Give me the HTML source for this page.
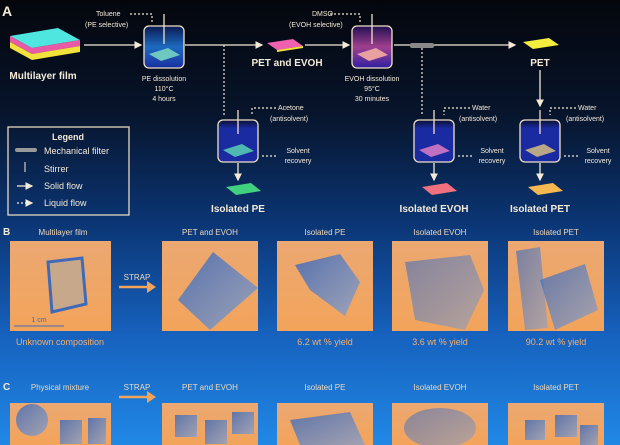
<!DOCTYPE html>
<html><head><meta charset="utf-8"><style>
body{margin:0;width:620px;height:445px;overflow:hidden;background:linear-gradient(180deg,#04060c 0%,#07142a 25%,#0b3574 50%,#1661bd 75%,#2188e6 100%);font-family:"Liberation Sans",sans-serif}
svg{position:absolute;left:0;top:0}
</style></head><body>
<svg width="620" height="445" viewBox="0 0 620 445" font-family="Liberation Sans, sans-serif">
<defs>
<marker id="a" markerWidth="6" markerHeight="6" refX="5" refY="3" orient="auto"><path d="M0,0 L6,3 L0,6z" fill="#f4ead8"/></marker>
<linearGradient id="ph" x1="0" y1="0" x2="0" y2="1"><stop offset="0" stop-color="#eba872"/><stop offset="1" stop-color="#f3a45a"/></linearGradient>
<linearGradient id="bl" x1="0" y1="0" x2="1" y2="1"><stop offset="0" stop-color="#3f6ab8"/><stop offset="1" stop-color="#8fa2c8"/></linearGradient>
<linearGradient id="v1" x1="0" y1="0" x2="0" y2="1"><stop offset="0" stop-color="#0a1a50"/><stop offset=".5" stop-color="#1d6ac0"/><stop offset="1" stop-color="#1a2fa0"/></linearGradient>
<linearGradient id="v2" x1="0" y1="0" x2="0" y2="1"><stop offset="0" stop-color="#201050"/><stop offset=".5" stop-color="#a04090"/><stop offset="1" stop-color="#3020a0"/></linearGradient>
<linearGradient id="v3" x1="0" y1="0" x2="0" y2="1"><stop offset="0" stop-color="#0a1030"/><stop offset=".2" stop-color="#1a2aa0"/><stop offset="1" stop-color="#1a2aa0"/></linearGradient>
</defs>
<g fill="#f4ead8">
<text x="2" y="16" font-size="14" font-weight="bold">A</text>
<polygon points="10,36 58,28 80,40 32,48" fill="#4fe6e0"/>
<polygon points="10,36 32,48 32,54 10,42" fill="#e85aa8"/>
<polygon points="32,48 80,40 80,46 32,54" fill="#e85aa8"/>
<polygon points="10,42 32,54 32,60 10,48" fill="#f2e23c"/>
<polygon points="32,54 80,46 80,52 32,60" fill="#f2e23c"/>
<text x="43" y="79" font-size="10" font-weight="bold" text-anchor="middle">Multilayer film</text>
</g>
<g stroke="#f4ead8" stroke-width="1.3" fill="none">
<line x1="84" y1="45" x2="141" y2="45" marker-end="url(#a)"/>
<line x1="185" y1="45" x2="262" y2="45" marker-end="url(#a)"/>
<line x1="305" y1="45" x2="349" y2="45" marker-end="url(#a)"/>
<line x1="394" y1="45" x2="515" y2="45" marker-end="url(#a)"/>
<line x1="540" y1="70" x2="540" y2="106" marker-end="url(#a)"/>
<line x1="238" y1="163" x2="238" y2="180" marker-end="url(#a)"/>
<line x1="434" y1="163" x2="434" y2="180" marker-end="url(#a)"/>
<line x1="540" y1="163" x2="540" y2="180" marker-end="url(#a)"/>
</g>
<g stroke="#f4ead8" stroke-width="1.2" fill="none" stroke-dasharray="2,2">
<path d="M130,14 H152 V22"/><path d="M330,14 H360 V22"/>
<path d="M224,45 V115"/><path d="M422,48 V115"/>
<path d="M276,108 H252 V115"/><path d="M470,108 H444 V115"/><path d="M576,108 H550 V115"/>
<path d="M262,156 H276"/><path d="M458,156 H474"/><path d="M564,156 H580"/>
</g>
<rect x="410" y="43" width="24" height="5" rx="2" fill="#888"/>
<g stroke="#f0e0c8" stroke-width="1.3">
<rect x="144" y="26" width="40" height="42" rx="5" fill="url(#v1)"/>
<rect x="352" y="26" width="40" height="42" rx="5" fill="url(#v2)"/>
<rect x="218" y="120" width="40" height="42" rx="5" fill="url(#v3)"/>
<rect x="414" y="120" width="40" height="42" rx="5" fill="url(#v3)"/>
<rect x="520" y="120" width="40" height="42" rx="5" fill="url(#v3)"/>
<line x1="164" y1="14" x2="164" y2="44"/><line x1="372" y1="14" x2="372" y2="44"/>
<line x1="238" y1="110" x2="238" y2="134"/><line x1="434" y1="110" x2="434" y2="134"/><line x1="540" y1="110" x2="540" y2="134"/>
</g>
<polygon points="149,54 168,48 180,55 161,61" fill="#6fc8c0"/>
<polygon points="357,54 376,48 388,55 369,61" fill="#e8a0a0"/>
<polygon points="223,150 242,144 254,151 235,157" fill="#4fb8b0"/>
<polygon points="419,150 438,144 450,151 431,157" fill="#c070c0"/>
<polygon points="525,150 544,144 556,151 537,157" fill="#b8a888"/>
<polygon points="267,43 293,39 303,46 277,50" fill="#f060b0"/><polygon points="277,50 303,46 303,48 277,52" fill="#f0e040"/>
<polygon points="523,42 549,38 559,45 533,49" fill="#f5ec40"/>
<polygon points="226,187 251,183 261,191 236,195" fill="#40d080"/>
<polygon points="422,187 447,183 457,191 432,195" fill="#f07080"/>
<polygon points="528,187 553,183 563,191 538,195" fill="#f5b850"/>
<g fill="#f4ead8" font-size="7" text-anchor="middle">
<text x="96" y="16" text-anchor="start">Toluene</text><text x="85" y="27" text-anchor="start">(PE selective)</text>
<text x="164" y="81">PE dissolution</text><text x="164" y="91">110°C</text><text x="164" y="101">4 hours</text>
<text x="312" y="16" text-anchor="start">DMSO</text><text x="289" y="27" text-anchor="start">(EVOH selective)</text>
<text x="372" y="81">EVOH dissolution</text><text x="372" y="91">95°C</text><text x="372" y="101">30 minutes</text>
<text x="278" y="110" text-anchor="start">Acetone</text><text x="270" y="121" text-anchor="start">(antisolvent)</text>
<text x="472" y="110" text-anchor="start">Water</text><text x="459" y="121" text-anchor="start">(antisolvent)</text>
<text x="578" y="110" text-anchor="start">Water</text><text x="566" y="121" text-anchor="start">(antisolvent)</text>
<text x="298" y="153">Solvent</text><text x="298" y="163">recovery</text>
<text x="492" y="153">Solvent</text><text x="492" y="163">recovery</text>
<text x="598" y="153">Solvent</text><text x="598" y="163">recovery</text>
</g>
<g fill="#f4ead8" font-size="10" font-weight="bold" text-anchor="middle">
<text x="287" y="66">PET and EVOH</text><text x="540" y="66">PET</text>
<text x="238" y="212">Isolated PE</text><text x="434" y="212">Isolated EVOH</text><text x="540" y="212">Isolated PET</text>
</g>
<rect x="8" y="127" width="121" height="88" fill="none" stroke="#e8d8c0" stroke-width="1.3"/>
<g fill="#f4ead8" font-size="9">
<text x="68" y="140" text-anchor="middle" font-weight="bold">Legend</text>
<rect x="15" y="148" width="22" height="4" rx="2" fill="#999"/><text x="44" y="154">Mechanical filter</text>
<text x="44" y="172">Stirrer</text><text x="44" y="189">Solid flow</text><text x="44" y="206">Liquid flow</text>
</g>
<line x1="25" y1="162" x2="25" y2="172" stroke="#f4ead8"/>
<line x1="17" y1="186" x2="32" y2="186" stroke="#f4ead8" stroke-width="1.3" marker-end="url(#a)"/>
<line x1="17" y1="203" x2="32" y2="203" stroke="#f4ead8" stroke-width="1.3" stroke-dasharray="2,2" marker-end="url(#a)"/>
<g fill="#f0d8b8" font-size="8" text-anchor="middle">
<text x="3" y="235" font-size="10" font-weight="bold" fill="#f4ead8" text-anchor="start">B</text>
<text x="63" y="235">Multilayer film</text><text x="210" y="235">PET and EVOH</text><text x="325" y="235">Isolated PE</text><text x="440" y="235">Isolated EVOH</text><text x="556" y="235">Isolated PET</text>
<text x="60" y="345" font-size="9" fill="#f3b070">Unknown composition</text><text x="325" y="345" font-size="9" fill="#f3b070">6.2 wt % yield</text><text x="440" y="345" font-size="9" fill="#f3b070">3.6 wt % yield</text><text x="556" y="345" font-size="9" fill="#f3b070">90.2 wt % yield</text>
<text x="137" y="280">STRAP</text><text x="137" y="390">STRAP</text>
<text x="3" y="390" font-size="10" font-weight="bold" fill="#f4ead8" text-anchor="start">C</text>
<text x="60" y="390">Physical mixture</text><text x="210" y="390">PET and EVOH</text><text x="325" y="390">Isolated PE</text><text x="440" y="390">Isolated EVOH</text><text x="556" y="390">Isolated PET</text>
</g>
<g stroke="#f3a45a" stroke-width="2.5"><line x1="119" y1="287" x2="148" y2="287"/><line x1="119" y1="397" x2="148" y2="397"/></g>
<polygon points="147,281 156,287 147,293" fill="#f3a45a"/><polygon points="147,391 156,397 147,403" fill="#f3a45a"/>
<g fill="url(#ph)">
<rect x="10" y="241" width="101" height="90"/><rect x="162" y="241" width="96" height="90"/><rect x="277" y="241" width="96" height="90"/><rect x="392" y="241" width="96" height="90"/><rect x="508" y="241" width="96" height="90"/>
<rect x="10" y="403" width="101" height="42"/><rect x="162" y="403" width="96" height="42"/><rect x="277" y="403" width="96" height="42"/><rect x="392" y="403" width="96" height="42"/><rect x="508" y="403" width="96" height="42"/>
</g>
<polygon points="48,262 82,258 86,304 52,312" fill="#c8a88a" stroke="#3f6ab8" stroke-width="3"/>
<line x1="14" y1="326" x2="64" y2="326" stroke="#3f6ab8"/><text x="39" y="322" font-size="7" fill="#3f6ab8" text-anchor="middle">1 cm</text>
<polygon points="213,252 258,288 210,330 178,300" fill="url(#bl)" opacity=".85"/>
<polygon points="295,265 340,254 360,282 345,316 310,290" fill="url(#bl)" opacity=".85"/>
<path d="M405,262 L470,255 L484,290 L465,330 L415,320 L410,290z" fill="url(#bl)" opacity=".6"/>
<polygon points="516,251 540,247 548,328 525,330" fill="url(#bl)" opacity=".65"/>
<polygon points="540,280 585,264 598,310 555,330" fill="url(#bl)" opacity=".75"/>
<g fill="url(#bl)" opacity=".8">
<ellipse cx="32" cy="420" rx="16" ry="16"/><rect x="60" y="420" width="22" height="24"/><rect x="88" y="418" width="18" height="26"/>
<rect x="175" y="415" width="22" height="22"/><rect x="205" y="420" width="22" height="24"/><rect x="232" y="412" width="22" height="22"/>
<polygon points="290,420 350,412 365,445 300,445"/>
<ellipse cx="440" cy="428" rx="36" ry="20" opacity=".7"/>
<rect x="525" y="420" width="20" height="20"/><rect x="555" y="415" width="22" height="22"/><rect x="580" y="425" width="18" height="20"/>
</g>
</svg>
</body></html>
